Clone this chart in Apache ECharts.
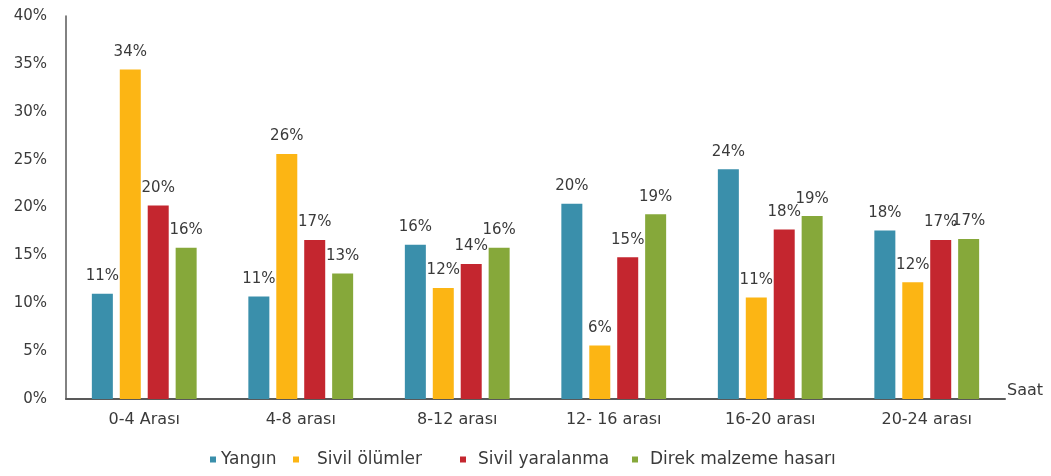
<!DOCTYPE html>
<html>
<head>
<meta charset="utf-8">
<script src="https://cdn.jsdelivr.net/npm/echarts@6/dist/echarts.min.js"></script>
<style>
  html, body { margin: 0; padding: 0; background: #ffffff; }
  #chart { width: 1051px; height: 476px; }
</style>
</head>
<body>
<div id="chart"></div>
<script>
// Time-of-day bands
const categories = ['0-4 Arası', '4-8 arası', '8-12 arası', '12- 16 arası', '16-20 arası', '20-24 arası'];

// Share of incidents (%) per band
const yangin = [11.0, 10.7, 16.1, 20.4, 24.0, 17.6];
const sivilOlumler = [34.4, 25.6, 11.6, 5.6, 10.6, 12.2];
const sivilYaralanma = [20.2, 16.6, 14.1, 14.8, 17.7, 16.6];
const direkHasar = [15.8, 13.1, 15.8, 19.3, 19.1, 16.7];

const seriesNames = ['Yangın', 'Sivil ölümler', 'Sivil yaralanma', 'Direk malzeme hasarı'];
const seriesValues = [yangin, sivilOlumler, sivilYaralanma, direkHasar];
const seriesColors = ['#3a8fab', '#fcb514', '#c4262f', '#86a83a'];

// y-axis ticks: 0%..40% every 5%
const yMin = 0, yMax = 40, yStep = 5;

const FONT = 'DejaVu Sans';
const TEXT = '#3a3a3a';

const chart = echarts.init(document.getElementById('chart'), null, { renderer: 'canvas' });

// one legend block per series so each entry sits where it belongs along the bottom row
const legendLefts = [205, 288, 455, 627];
const legendTextPad = [0, 13, 7, 7];

const option = {
  animation: false,
  backgroundColor: '#ffffff',
  grid: { left: 66, right: 46, top: 16, bottom: 77, containLabel: false },
  legend: seriesNames.map((name, i) => ({
    data: [name],
    left: legendLefts[i],
    top: 446,
    icon: 'rect',
    itemWidth: 6,
    itemHeight: 6,
    itemGap: 0,
    selectedMode: false,
    textStyle: {
      fontFamily: FONT, fontSize: 17, color: TEXT,
      padding: [0, 0, 0, legendTextPad[i]]
    }
  })),
  xAxis: {
    type: 'category',
    data: categories,
    name: 'Saat',
    nameLocation: 'end',
    nameGap: 2,
    nameTextStyle: { fontFamily: FONT, fontSize: 16, color: TEXT, verticalAlign: 'bottom', lineHeight: 16 },
    axisLine: { lineStyle: { color: '#595959', width: 2 } },
    axisTick: { show: false },
    axisLabel: { fontFamily: FONT, fontSize: 16, color: TEXT, margin: 13 }
  },
  yAxis: {
    type: 'value',
    min: yMin,
    max: yMax,
    interval: yStep,
    axisLine: { show: true, lineStyle: { color: '#595959', width: 1.5 } },
    axisTick: { show: false },
    splitLine: { show: false },
    axisLabel: {
      fontFamily: FONT, fontSize: 15, color: TEXT, margin: 19,
      formatter: v => Math.round(v) + '%'
    }
  },
  series: seriesNames.map((name, i) => ({
    name: name,
    type: 'bar',
    data: seriesValues[i],
    barWidth: 21,
    barGap: '33%',
    itemStyle: { color: seriesColors[i] },
    label: {
      show: true,
      position: 'top',
      distance: 10,
      fontFamily: FONT,
      fontSize: 15,
      color: TEXT,
      formatter: p => Math.round(p.value) + '%'
    }
  }))
};

chart.setOption(option);
</script>
</body>
</html>
